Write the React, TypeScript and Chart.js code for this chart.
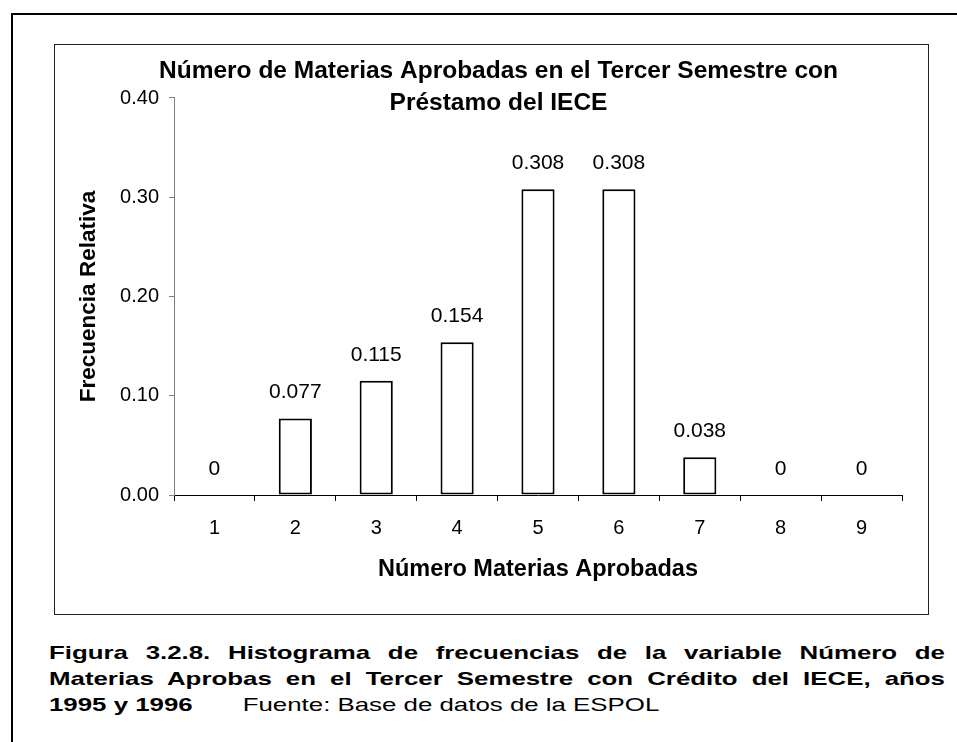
import React, { useEffect, useRef } from "react";
import { Chart, registerables } from "chart.js";

Chart.register(...registerables);

const categories: string[] = ["1", "2", "3", "4", "5", "6", "7", "8", "9"];
const relativeFrequency: number[] = [0, 0.077, 0.115, 0.154, 0.308, 0.308, 0.038, 0, 0];
const yTicks: number[] = [0, 0.1, 0.2, 0.3, 0.4];
const chartTitle: string[] = [
  "Número de Materias Aprobadas en el Tercer Semestre con",
  "Préstamo del IECE",
];
const xTitle = "Número Materias Aprobadas";
const yTitle = "Frecuencia Relativa";
const captionLines: string[] = [
  "Figura 3.2.8. Histograma de frecuencias de la variable Número de",
  "Materias Aprobas en el Tercer Semestre con Crédito del IECE, años",
];
const captionLast = "1995 y 1996";
const captionSource = "Fuente: Base de datos de la ESPOL";

const FONT = '"Liberation Sans", Arial, Helvetica, sans-serif';

const valueLabels = {
  id: "valueLabels",
  afterDatasetsDraw(chart: any) {
    const ctx = chart.ctx;
    const meta = chart.getDatasetMeta(0);
    const data = chart.data.datasets[0].data as number[];
    ctx.save();
    ctx.font = `21px ${FONT}`;
    ctx.fillStyle = "#000";
    ctx.textAlign = "center";
    ctx.textBaseline = "middle";
    meta.data.forEach((bar: any, i: number) => {
      const v = data[i];
      const txt = v === 0 ? "0" : v.toFixed(3);
      ctx.fillText(txt, bar.x, bar.y - 26);
    });
    ctx.restore();
  },
};

const CAP_W = 896;
const CAP_K = 1.36;

export default function App() {
  const ref = useRef<HTMLCanvasElement>(null);

  useEffect(() => {
    if (!ref.current) return;
    const chart = new Chart(ref.current, {
      type: "bar",
      data: {
        labels: categories,
        datasets: [
          {
            data: relativeFrequency,
            backgroundColor: "#ffffff",
            borderColor: "#000000",
            borderWidth: 2,
            borderSkipped: false,
            barPercentage: 0.41,
            categoryPercentage: 1,
          },
        ],
      },
      options: {
        responsive: false,
        maintainAspectRatio: false,
        animation: false,
        layout: { padding: { left: 40, right: 26, top: 0, bottom: 0 } },
        plugins: {
          legend: { display: false },
          tooltip: { enabled: false },
          title: {
            display: true,
            text: chartTitle,
            color: "#000",
            font: { family: FONT, size: 24.5, weight: "bold", lineHeight: 1.306 },
            padding: { top: 10, bottom: -21 },
          },
        },
        scales: {
          x: {
            type: "category",
            offset: true,
            grid: {
              display: true,
              offset: true,
              drawOnChartArea: false,
              drawTicks: true,
              tickLength: 6,
              tickColor: "#000",
              tickWidth: 1,
            },
            border: { display: true, color: "#000", width: 1 },
            ticks: {
              color: "#000",
              font: { family: FONT, size: 20 },
              padding: 15,
              maxRotation: 0,
              autoSkip: false,
            },
            title: {
              display: true,
              text: xTitle,
              color: "#000",
              font: { family: FONT, size: 23.5, weight: "bold" },
              padding: { top: 0, bottom: 30 },
            },
            afterFit: (scale: any) => {
              scale.height = 119;
            },
          },
          y: {
            type: "linear",
            min: 0,
            max: 0.4,
            afterBuildTicks: (scale: any) => {
              scale.ticks = yTicks.map((v) => ({ value: v }));
            },
            grid: {
              display: true,
              drawOnChartArea: false,
              drawTicks: true,
              tickLength: 5,
              tickColor: "#808080",
              tickWidth: 1,
            },
            border: { display: true, color: "#808080", width: 1 },
            ticks: {
              color: "#000",
              font: { family: FONT, size: 20 },
              padding: 10,
              callback: (v: any) => Number(v).toFixed(2),
            },
            title: {
              display: true,
              text: yTitle,
              color: "#000",
              font: { family: FONT, size: 22.5, weight: "bold" },
              padding: { top: -19.5, bottom: 0 },
            },
            afterFit: (scale: any) => {
              scale.width = 79;
            },
          },
        },
      },
      plugins: [valueLabels],
    });
    return () => chart.destroy();
  }, []);

  const lineBase: React.CSSProperties = {
    position: "absolute",
    left: 49,
    width: CAP_W / CAP_K,
    fontSize: 19,
    fontWeight: "bold",
    lineHeight: "26px",
    transform: `scaleX(${CAP_K})`,
    transformOrigin: "0 0",
  };

  return (
    <div
      style={{
        position: "absolute",
        left: 0,
        top: 0,
        width: 957,
        height: 742,
        overflow: "hidden",
        background: "#fff",
        fontFamily: FONT,
        color: "#000",
      }}
    >
      <div
        style={{
          position: "absolute",
          left: 11,
          top: 13,
          width: 980,
          height: 780,
          borderLeft: "2px solid #000",
          borderTop: "2px solid #000",
        }}
      />
      <div
        style={{
          position: "absolute",
          left: 54,
          top: 44,
          width: 873,
          height: 569,
          border: "1px solid #222",
        }}
      >
        <canvas ref={ref} width={873} height={569} style={{ display: "block", width: 873, height: 569 }} />
      </div>
      {captionLines.map((line, i) => (
        <div
          key={i}
          style={{
            ...lineBase,
            top: 640 + i * 26,
            whiteSpace: "nowrap",
            textAlign: "justify",
            textAlignLast: "justify",
          }}
        >
          {line}
        </div>
      ))}
      <div style={{ ...lineBase, top: 640 + 2 * 26, whiteSpace: "nowrap" }}>
        {captionLast}
        <span style={{ fontWeight: "normal", marginLeft: 50 / CAP_K }}>{captionSource}</span>
      </div>
    </div>
  );
}
